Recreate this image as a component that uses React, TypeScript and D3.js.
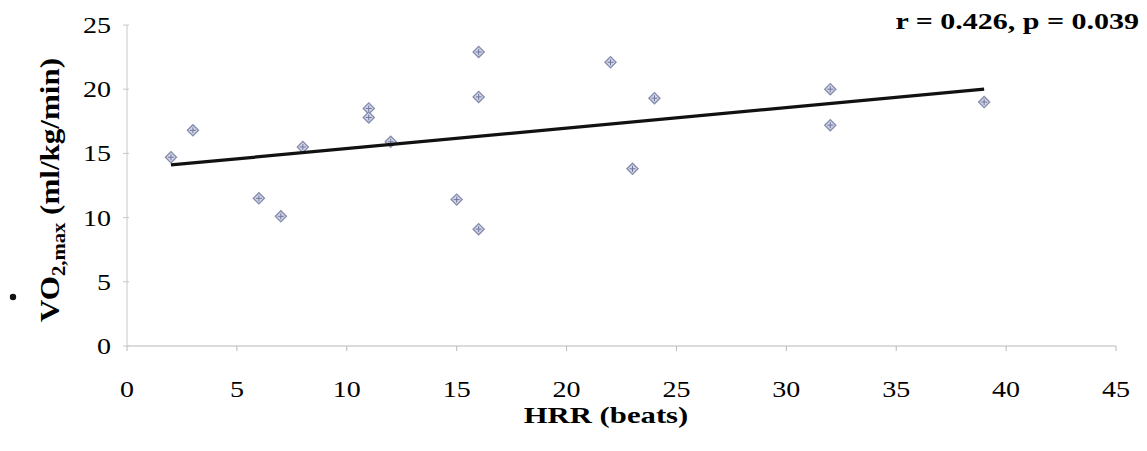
import React from 'react';
import * as d3 from 'd3';

// HRR (beats) vs VO2max (ml/kg/min)
const hrr = [2, 3, 6, 7, 8, 11, 11, 12, 15, 16, 16, 16, 22, 23, 24, 32, 32, 39];
const vo2 = [14.7, 16.8, 11.5, 10.1, 15.5, 18.5, 17.8, 15.9, 11.4, 22.9, 19.4, 9.1, 22.1, 13.8, 19.3, 20.0, 17.2, 19.0];

// fitted line end points as drawn
const trendX = [2, 39];
const trendY = [14.1, 20.0];

const xTicks = [0, 5, 10, 15, 20, 25, 30, 35, 40, 45];
const yTicks = [0, 5, 10, 15, 20, 25];

const W = 1147;
const H = 451;
const serif = '"Liberation Serif", "Times New Roman", serif';
// the scan is stretched sideways, so text is widened a bit
const SX = 1.22;

const App = () => {
  const x = d3.scaleLinear().domain([0, 45]).range([127, 1116]);
  const y = d3.scaleLinear().domain([0, 25]).range([346, 25]);

  const line = d3.line<number>()
    .x((d, i) => x(trendX[i]))
    .y((d, i) => y(trendY[i]));

  const marker = d3.symbol().type(d3.symbolSquare).size(62)();

  return (
    <div style={{ position: 'fixed', left: 0, top: 0 }}>
      <svg width={W} height={H} style={{ display: 'block', background: '#fff' }}>
        {/* axes */}
        <line x1={x(0)} x2={x(45)} y1={y(0)} y2={y(0)} stroke="#b8b8b8" strokeWidth={1} />
        <line x1={x(0)} x2={x(0)} y1={y(0)} y2={y(25)} stroke="#c8c8c8" strokeWidth={1} />
        {xTicks.map(t => (
          <g key={'x' + t}>
            <line x1={x(t)} x2={x(t)} y1={y(0)} y2={y(0) + 5} stroke="#b8b8b8" />
            <text transform={`translate(${x(t)},${y(0) + 51}) scale(${SX},1)`} textAnchor="middle"
              fontFamily={serif} fontSize={23}>{t}</text>
          </g>
        ))}
        {yTicks.map(t => (
          <g key={'y' + t}>
            <line x1={x(0) - 4} x2={x(0) + 2} y1={y(t)} y2={y(t)} stroke="#c8c8c8" />
            <text transform={`translate(111,${y(t) + 8}) scale(${SX},1)`} textAnchor="end"
              fontFamily={serif} fontSize={23}>{t}</text>
          </g>
        ))}

        {/* points */}
        {hrr.map((h, i) => (
          <g key={'p' + i} transform={`translate(${x(h)},${y(vo2[i])})`}>
            <path d={marker} transform="rotate(45)" fill="#d3d6e8" stroke="#858bac" strokeWidth={1.3} />
            <line x1={-3} x2={3} y1={0} y2={0} stroke="#6f7598" strokeWidth={1} />
            <line x1={0} x2={0} y1={-3} y2={3} stroke="#6f7598" strokeWidth={1} />
          </g>
        ))}

        {/* trend line */}
        <path d={line(trendX) || ''} fill="none" stroke="#111" strokeWidth={3.2} />

        {/* annotation */}
        <text transform={`translate(1139,29) scale(1.25,1)`} textAnchor="end" fontFamily={serif}
          fontSize={24} fontWeight="bold">
          r = 0.426, p = 0.039
        </text>

        {/* axis titles */}
        <text transform={`translate(606,423) scale(1.28,1)`} textAnchor="middle" fontFamily={serif}
          fontSize={24} fontWeight="bold">HRR (beats)</text>
        <text transform="translate(59,190) rotate(-90) scale(1.15,1)" textAnchor="middle" fontFamily={serif}
          fontSize={27} fontWeight="bold">
          VO<tspan dy={6} fontSize={18}>2,max</tspan><tspan dy={-6}> (ml/kg/min)</tspan>
        </text>
        <circle cx={13} cy={297} r={3.2} fill="#111" />
      </svg>
    </div>
  );
};

export default App;
